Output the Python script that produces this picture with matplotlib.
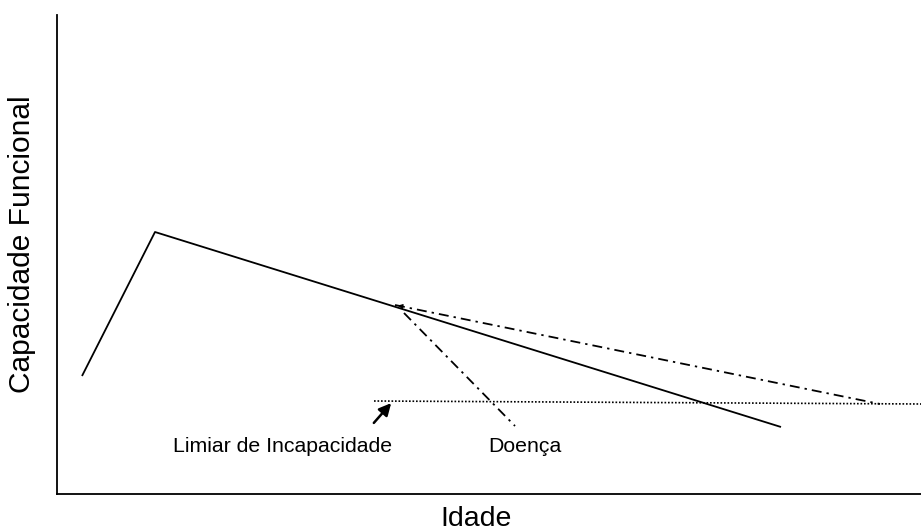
import matplotlib

matplotlib.use("Agg")
import matplotlib.pyplot as plt

plt.rcParams["font.family"] = ["Liberation Sans", "DejaVu Sans"]

# coordinates (x = idade, y = capacidade, arbitrary units)
NORMAL_X = [82, 155, 781]
NORMAL_Y = [118, 262, 67]

DOENCA_X = [404, 515]
DOENCA_Y = [181, 68]

LENTO_X = [395, 880]
LENTO_Y = [189, 90]

LIMIAR_X = [374, 921]
LIMIAR_Y = [93, 90]

INK = "black"

fig = plt.figure(figsize=(9.21, 5.31), dpi=100)
ax = fig.add_axes([57 / 921, 37 / 531, 1 - 57 / 921, 479 / 531])
ax.set_xlim(57, 921)
ax.set_ylim(0, 479)

ax.plot(NORMAL_X, NORMAL_Y, color=INK, lw=1.3, solid_capstyle="butt")
ax.plot(DOENCA_X, DOENCA_Y, color=INK, lw=1.3, dashes=(5.5, 2.8, 1.3, 2.8))
ax.plot(LENTO_X, LENTO_Y, color=INK, lw=1.3, dashes=(5.5, 2.8, 1.3, 2.8))
ax.plot(LIMIAR_X, LIMIAR_Y, color=INK, lw=1.2, dashes=(1, 1.1))

# small arrowhead at the start of the slow-decline line
ax.annotate("", xy=(LENTO_X[0], LENTO_Y[0]), xytext=(LENTO_X[0] + 8, LENTO_Y[0] - 1.6),
            arrowprops=dict(arrowstyle="-|>", color=INK, lw=0.8, mutation_scale=7))

# arrow pointing to the threshold line
ax.annotate("", xy=(393, 93), xytext=(372, 69),
            arrowprops=dict(arrowstyle="-|>", color=INK, lw=1.8, mutation_scale=18))

ax.text(173, 48, "Limiar de Incapacidade", fontsize=15.3, ha="left", va="center")
ax.text(488, 48, "Doença", fontsize=15.3, ha="left", va="center")

fig.text(476 / 921, 1 - 519 / 531, "Idade", fontsize=20.5, ha="center", va="center")
fig.text(22 / 921, 1 - 244 / 531, "Capacidade Funcional", fontsize=21.5,
         rotation=90, ha="center", va="center")

ax.set_xticks([])
ax.set_yticks([])
for s in ("top", "right"):
    ax.spines[s].set_visible(False)
for s in ("left", "bottom"):
    ax.spines[s].set_linewidth(1.3)

fig.savefig("out.png", dpi=100)
